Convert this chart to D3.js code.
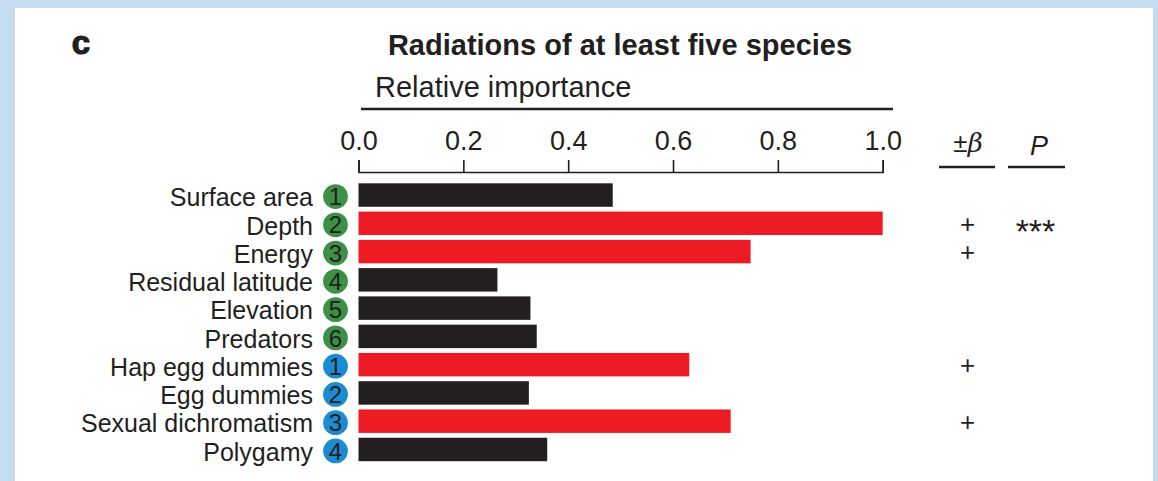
<!DOCTYPE html>
<html>
<head>
<meta charset="utf-8">
<script src="https://cdn.jsdelivr.net/npm/d3@7"></script>
<style>
  html, body { margin: 0; padding: 0; background: #c6ddf1; }
  svg { display: block; font-family: "Liberation Sans", Arial, Helvetica, sans-serif; }
</style>
</head>
<body>
<div id="chart"></div>
<script>
// -------- DATA --------
const labels = ["Surface area", "Depth", "Energy", "Residual latitude", "Elevation",
                "Predators", "Hap egg dummies", "Egg dummies", "Sexual dichromatism", "Polygamy"];
const badgeNumbers = [1, 2, 3, 4, 5, 6, 1, 2, 3, 4];
const badgeGroups = ["env", "env", "env", "env", "env", "env", "sex", "sex", "sex", "sex"];
const importance = [0.485, 1.0, 0.748, 0.265, 0.328, 0.340, 0.631, 0.325, 0.710, 0.360];
const significant = [false, true, true, false, false, false, true, false, true, false];
const betaSigns = ["", "+", "+", "", "", "", "+", "", "+", ""];
const pStars = ["", "***", "", "", "", "", "", "", "", ""];
const xTicks = [0, 0.2, 0.4, 0.6, 0.8, 1.0];

// -------- LAYOUT --------
const width = 1158, height = 481;
const ink = "#231f20";
const red = "#ed1c24";
const badgeColor = { env: "#3d9146", sex: "#1b8bd2" };

const svg = d3.select("#chart").append("svg")
  .attr("width", width)
  .attr("height", height);

// weisses Panel
svg.append("rect")
  .attr("x", 15).attr("y", 8)
  .attr("width", 1138).attr("height", height)
  .attr("fill", "#fff");

// Skalen
const x = d3.scaleLinear().domain([0, 1]).range([358.5, 882.7]);
const y = d3.scaleBand()
  .domain(labels)
  .range([180.9, 463.6])
  .paddingInner(0.17)
  .paddingOuter(0.085);

// Panel-Buchstabe + Titel
svg.append("text")
  .attr("x", 81).attr("y", 54)
  .attr("text-anchor", "middle")
  .attr("font-size", 33).attr("font-weight", "bold")
  .attr("fill", ink).attr("stroke", ink).attr("stroke-width", 1.2)
  .text("c");

svg.append("text")
  .attr("x", 620).attr("y", 55)
  .attr("text-anchor", "middle")
  .attr("font-size", 29).attr("font-weight", "bold")
  .attr("fill", ink)
  .text("Radiations of at least five species");

svg.append("text")
  .attr("x", 375).attr("y", 97)
  .attr("font-size", 29)
  .attr("fill", ink)
  .text("Relative importance");

svg.append("line")
  .attr("x1", 361).attr("x2", 893)
  .attr("y1", 109).attr("y2", 109)
  .attr("stroke", ink).attr("stroke-width", 2.5);

// X-Achse oben
const xAxisG = svg.append("g")
  .attr("transform", "translate(0,172)")
  .call(d3.axisTop(x)
    .tickValues(xTicks)
    .tickFormat(d3.format(".1f"))
    .tickSize(12)
    .tickSizeOuter(12)
    .tickPadding(10));

xAxisG.selectAll("path, line").attr("stroke", ink).attr("stroke-width", 1.6);
xAxisG.selectAll("text")
  .attr("font-size", 27)
  .attr("font-family", "'Liberation Sans', Arial, sans-serif")
  .attr("fill", ink);

// Balken
svg.append("g").selectAll("rect")
  .data(labels)
  .join("rect")
    .attr("x", x(0))
    .attr("y", d => y(d))
    .attr("width", (d, i) => x(importance[i]) - x(0))
    .attr("height", y.bandwidth())
    .attr("fill", (d, i) => significant[i] ? red : ink);

// Zeilenbeschriftung
svg.append("g").selectAll("text")
  .data(labels)
  .join("text")
    .attr("x", 313)
    .attr("y", d => y(d) + y.bandwidth() / 2)
    .attr("dy", "0.45em")
    .attr("text-anchor", "end")
    .attr("font-size", 25)
    .attr("fill", ink)
    .text(d => d);

// nummerierte Kreise
const badges = svg.append("g").selectAll("g")
  .data(labels)
  .join("g")
    .attr("transform", d => `translate(335.5,${y(d) + y.bandwidth() / 2 + 1.5})`);

badges.append("circle")
  .attr("r", 12.4)
  .attr("fill", (d, i) => badgeColor[badgeGroups[i]]);

badges.append("text")
  .attr("text-anchor", "middle")
  .attr("dy", "0.36em")
  .attr("font-size", 24)
  .attr("fill", ink)
  .text((d, i) => badgeNumbers[i]);

// Spalten rechts: ±β und P
svg.append("text")
  .attr("x", 968).attr("y", 152)
  .attr("text-anchor", "middle")
  .attr("font-size", 26)
  .attr("fill", ink)
  .html("±<tspan font-style='italic' font-family='DejaVu Serif, serif'>β</tspan>");

svg.append("text")
  .attr("x", 1039).attr("y", 155)
  .attr("text-anchor", "middle")
  .attr("font-size", 27)
  .attr("font-style", "italic")
  .attr("fill", ink)
  .text("P");

svg.append("line")
  .attr("x1", 939).attr("x2", 995)
  .attr("y1", 167).attr("y2", 167)
  .attr("stroke", ink).attr("stroke-width", 2.5);
svg.append("line")
  .attr("x1", 1008).attr("x2", 1065)
  .attr("y1", 167).attr("y2", 167)
  .attr("stroke", ink).attr("stroke-width", 2.5);

svg.append("g").selectAll("text")
  .data(labels)
  .join("text")
    .attr("x", 967.5)
    .attr("y", d => y(d) + y.bandwidth() / 2)
    .attr("dy", "0.36em")
    .attr("text-anchor", "middle")
    .attr("font-size", 26)
    .attr("fill", ink)
    .text((d, i) => betaSigns[i]);

svg.append("g").selectAll("text")
  .data(labels)
  .join("text")
    .attr("x", 1035.5)
    .attr("y", d => y(d) + y.bandwidth() / 2)
    .attr("dy", "0.58em")
    .attr("text-anchor", "middle")
    .attr("font-size", 34)
    .attr("fill", ink)
    .text((d, i) => pStars[i]);
</script>
</body>
</html>
